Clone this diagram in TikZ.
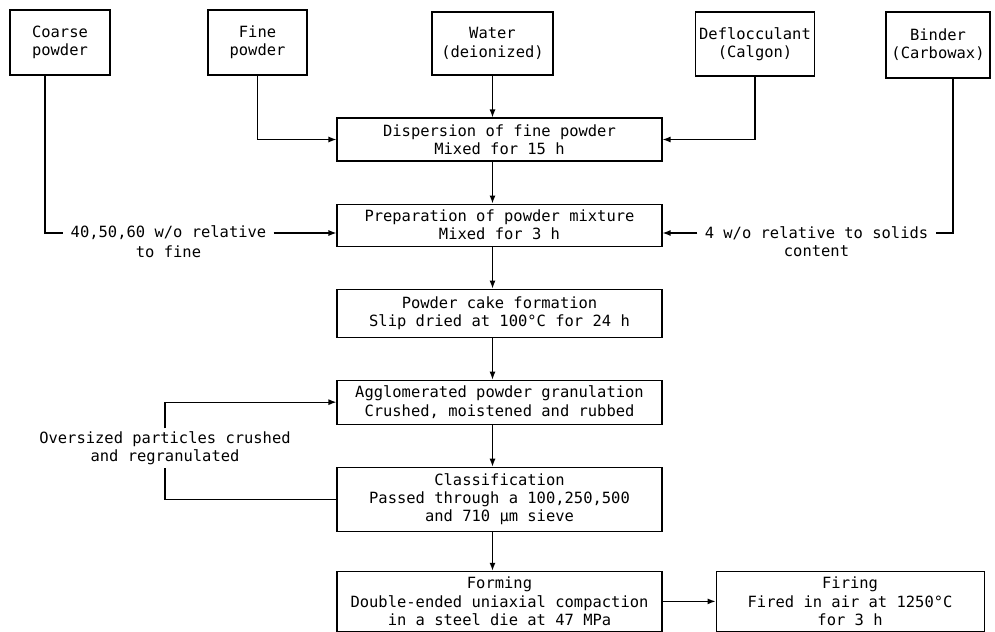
\documentclass[tikz,border=0pt]{standalone}
\usepackage{fontspec}
\newfontfamily\tipo{DejaVu Sans Mono}
\usetikzlibrary{arrows.meta, positioning}

\begin{document}
\begin{tikzpicture}[font=\tipo\fontsize{8.8}{10.4}\selectfont, >=Latex, node distance=0.84cm,
        src/.style={draw, line width=0.6pt, inner xsep=2pt, minimum height=1.3cm, align=center},
        bx/.style={draw, line width=0.6pt, minimum width=6.5cm, minimum height=0.86cm, align=center},
        lb/.style={inner xsep=4pt, inner ysep=1.5pt, align=center},
        ln/.style={line width=0.7pt},
        tr/.style={-{Latex[length=1.6mm]}, line width=0.7pt}]
        \useasboundingbox (0,0) rectangle (19.9,-12.62);
        % materiales de partida
        \node[src, minimum width=2cm] (coarse) at (1.2,-0.85) {Coarse\\powder};
        \node[src, minimum width=1.98cm] (fine) at (5.15,-0.85) {Fine\\powder};
        \node[src, minimum width=2.42cm, minimum height=1.26cm] (water) at (9.85,-0.87) {Water\\(deionized)};
        \node[src, minimum width=2.28cm, minimum height=1.28cm] (defl) at (15.1,-0.88) {Deflocculant\\(Calgon)};
        \node[src, minimum width=2.08cm, minimum height=1.32cm] (binder) at (18.76,-0.9) {Binder\\(Carbowax)};
        % etapas del proceso
        \node[bx] (disp) at (9.99,-2.79) {Dispersion of fine powder\\Mixed for 15 h};
        \node[bx, below=of disp, minimum height=0.84cm] (prep) {Preparation of powder mixture\\Mixed for 3 h};
        \node[bx, below=of prep, minimum height=0.96cm] (cake) {Powder cake formation\\Slip dried at 100°C for 24 h};
        \node[bx, below=of cake, minimum height=0.88cm] (agg) {Agglomerated powder granulation\\Crushed, moistened and rubbed};
        \node[bx, below=of agg, minimum height=1.28cm] (class) {Classification\\Passed through a 100,250,500\\and 710 µm sieve};
        \node[bx, below=0.78cm of class, minimum height=1.2cm] (forming) {Forming\\Double-ended uniaxial compaction\\in a steel die at 47 MPa};
        \node[bx, right=1.06cm of forming, minimum width=5.36cm, minimum height=1.2cm] (firing) {Firing\\Fired in air at 1250°C\\for 3 h};
        % rotulos
        \node[lb] (cl) at (3.37,-4.66) {40,50,60 w/o relative};
        \node[lb, below=0pt of cl] (clb) {to fine};
        \node[lb] (bl) at (16.33,-4.66) {4 w/o relative to solids};
        \node[lb, below=0pt of bl] (blb) {content};
        \node[lb] (ovs) at (3.3,-8.96) {Oversized particles crushed\\and regranulated};
        % flechas
        \draw[tr] (water) -- (water |- disp.north);
        \draw[tr] (fine) |- (disp);
        \draw[tr] (defl) |- (disp);
        \draw[tr] (disp.south -| water) -- (prep.north -| water);
        \draw[tr] (prep.south -| water) -- (cake.north -| water);
        \draw[tr] (cake.south -| water) -- (agg.north -| water);
        \draw[tr] (agg.south -| water) -- (class.north -| water);
        \draw[tr] (class.south -| water) -- (forming.north -| water);
        \draw[tr] (forming) -- (firing);
        \draw[ln] ([xshift=-0.3cm]coarse.south) |- (cl.west);
        \draw[tr] (cl.east) -- (cl.east -| prep.west);
        \draw[ln] ([xshift=0.3cm]binder.south) |- (bl.east);
        \draw[tr] (bl.west) -- (bl.west -| prep.east);
        \draw[ln] (class.west) -| (ovs.south);
        \draw[tr] (ovs.north) |- (agg.west);
    \end{tikzpicture}
\end{document}
